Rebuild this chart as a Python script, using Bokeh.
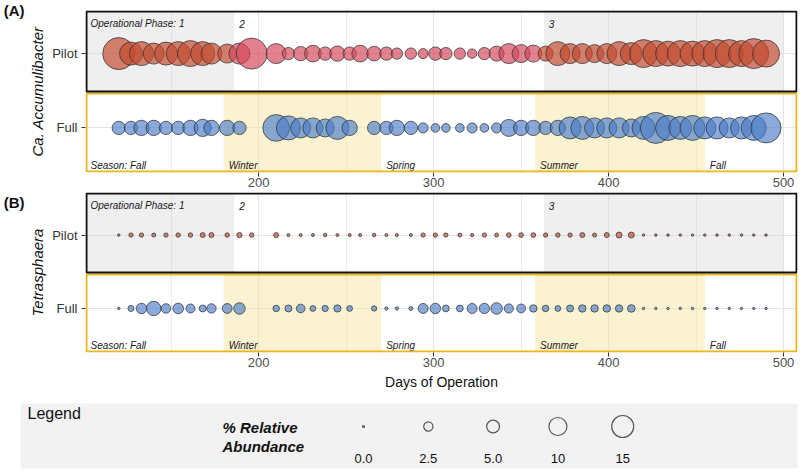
import math
from bokeh.plotting import figure
from bokeh.models import ColumnDataSource, Range1d, FixedTicker, LinearAxis
from bokeh.core.properties import value
from bokeh.embed import file_html
from bokeh.resources import INLINE

FONT = "Liberation Sans"

# ---------------- data ----------------
days_pilot = [120, 127, 133, 140, 147, 154, 161, 168, 173, 182, 189, 196,
              210, 217, 224, 231, 238, 245, 252, 258, 266, 273, 279, 287,
              294, 301, 307, 315, 322, 329, 336, 343, 350, 357, 364, 371,
              378, 385, 392, 399, 406, 413, 420, 427, 434, 441, 448, 455,
              462, 469, 476, 483, 490]
days_full = [120, 127, 133, 140, 147, 154, 161, 168, 173, 182, 189,
             210, 217, 224, 231, 238, 245, 252, 266, 273, 279, 287,
             294, 301, 307, 315, 322, 329, 336, 343, 350, 357, 364, 371,
             378, 385, 392, 399, 406, 413, 420, 427, 434, 441, 448, 455,
             462, 469, 476, 483, 490]

accum_pilot = [31.9, 16.4, 17.9, 13.7, 16.4, 17.9, 21.0, 17.9, 13.7, 11.2, 13.7, 29.9,
               12.4, 4.6, 6.3, 8.6, 5.4, 7.2, 5.4, 8.6, 6.6, 5.4, 3.9, 3.9,
               3.0, 5.4, 4.6, 3.9, 2.6, 4.6, 6.9, 12.4, 10.0, 8.9, 6.9, 17.9,
               12.4, 12.4, 10.0, 12.4, 17.9, 15.0, 24.4, 21.0, 19.4, 21.0, 19.4, 21.0,
               24.4, 24.4, 21.0, 28.0, 22.7]
accum_full = [5.4, 5.4, 7.2, 7.2, 5.4, 5.4, 7.2, 9.2, 7.2, 7.2, 5.4,
              22.2, 17.9, 12.4, 12.4, 10.0, 16.4, 7.2, 5.4, 5.4, 7.2, 5.4,
              3.0, 2.2, 2.2, 2.2, 3.0, 2.2, 3.0, 8.9, 7.2, 7.2, 5.4, 7.2,
              15.0, 16.4, 12.4, 12.4, 12.4, 10.0, 16.4, 29.9, 19.4, 16.4, 19.4, 15.0,
              15.0, 12.4, 15.0, 19.4, 28.0]

tetra_pilot = [0.07, 0.45, 0.45, 0.38, 0.45, 0.5, 0.5, 0.66, 0.66, 0.5, 0.75, 0.5,
               0.66, 0.16, 0.16, 0.16, 0.26, 0.16, 0.16, 0.16, 0.26, 0.16, 0.16, 0.16,
               0.45, 0.45, 0.45, 0.38, 0.2, 0.45, 0.38, 0.56, 0.56, 0.56, 0.45, 0.5,
               0.45, 0.66, 0.38, 0.66, 1.0, 1.0, 0.07, 0.07, 0.07, 0.07, 0.07, 0.07,
               0.07, 0.07, 0.07, 0.07, 0.07]
tetra_full = [0.07, 1.0, 3.3, 6.4, 2.7, 3.4, 2.4, 1.4, 2.6, 2.9, 4.0,
              1.2, 1.4, 2.2, 0.9, 1.1, 1.5, 0.9, 0.75, 0.2, 0.2, 0.38,
              3.0, 3.3, 1.3, 1.3, 3.0, 3.2, 4.0, 2.5, 2.3, 1.6, 1.2, 0.9,
              1.4, 1.6, 1.6, 1.6, 1.6, 1.7, 0.07, 0.07, 0.07, 0.07, 0.07, 0.07,
              0.07, 0.07, 0.07, 0.07, 0.07]

phase_names = ["Operational Phase: 1", "2", "3"]
phase_start = [0, 186, 363]
phase_end = [186, 363, 500]
phase_shaded = [True, False, True]

season_names = ["Season: Fall", "Winter", "Spring", "Summer", "Fall"]
season_start = [0, 180, 270, 358, 455]
season_end = [180, 270, 358, 455, 560]
season_shaded = [False, True, False, True, False]

x_ticks = [200, 300, 400, 500]
x_minor = [150, 250, 350, 450]
row_ticks = [0, 1]
row_labels = {0: "Full", 1: "Pilot"}

legend_values = [0.0, 2.5, 5.0, 10, 15]
legend_labels = ["0.0", "2.5", "5.0", "10", "15"]

# ---------------- styling / layout ----------------
W = 802
BL, BR = 85, 5                 # left / right borders (px)
FW = W - BL - BR               # frame width
X0, X1 = 101, 508
Y0, Y1, Y_SPLIT = -0.6, 1.58, 0.476

pilot_colors_A = ["#C24A2E", "#D4475A", "#C24A2E"]
pilot_colors_B = ["#C24A2E", "#C24A2E", "#C24A2E"]
full_color = "#4A7DC8"


def bubble_size(v):
    return math.sqrt(4 + 32 * v)


def phase_index(day):
    for i in range(len(phase_start)):
        if phase_start[i] <= day < phase_end[i]:
            return i
    return len(phase_start) - 1


def make_panel(tag, tag_y, ylabel, pilot_vals, full_vals, pilot_colors, height,
               border_top, border_bottom, xlabel):
    fh = height - border_top - border_bottom
    px = (X1 - X0) / FW          # data units per pixel (x)
    py = (Y1 - Y0) / fh          # data units per pixel (y)

    p = figure(width=W, height=height, x_range=Range1d(X0, X1), y_range=Range1d(Y0, Y1),
               output_backend="svg", toolbar_location=None,
               min_border_left=BL, min_border_right=BR,
               min_border_top=border_top, min_border_bottom=border_bottom)
    p.outline_line_color = None
    p.background_fill_color = "white"
    p.border_fill_color = "white"

    # x axis
    p.xaxis.ticker = FixedTicker(ticks=x_ticks, minor_ticks=x_minor)
    p.xaxis.minor_tick_line_color = None
    p.xaxis.axis_line_color = None
    p.xaxis.major_tick_line_color = "#333333"
    p.xaxis.major_tick_out = 4
    p.xaxis.major_tick_in = 0
    p.xaxis.major_label_standoff = 1
    p.xaxis.major_label_text_font = FONT
    p.xaxis.major_label_text_font_size = "13px"
    p.xaxis.major_label_text_color = "#4D4D4D"
    if xlabel:
        p.xaxis.axis_label = xlabel
        p.xaxis.axis_label_text_font = FONT
        p.xaxis.axis_label_text_font_size = "14px"
        p.xaxis.axis_label_text_font_style = "normal"
        p.xaxis.axis_label_text_color = "#111111"
        p.xaxis.axis_label_standoff = 4

    # y axis
    p.yaxis.ticker = FixedTicker(ticks=row_ticks)
    p.yaxis.major_label_overrides = row_labels
    p.yaxis.minor_tick_line_color = None
    p.yaxis.axis_line_color = None
    p.yaxis.major_tick_line_color = "#333333"
    p.yaxis.major_tick_out = 4
    p.yaxis.major_tick_in = 0
    p.yaxis.major_label_standoff = 4
    p.yaxis.major_label_text_font = FONT
    p.yaxis.major_label_text_font_size = "13px"
    p.yaxis.major_label_text_color = "#333333"
    p.yaxis.axis_label = ylabel
    p.yaxis.axis_label_text_font = FONT
    p.yaxis.axis_label_text_font_size = "15px"
    p.yaxis.axis_label_text_font_style = "italic"
    p.yaxis.axis_label_text_color = "#111111"
    p.yaxis.axis_label_standoff = 3

    # panel tag "(A)" / "(B)" as an outer left axis with a single labelled tick
    tag_axis = LinearAxis(ticker=FixedTicker(ticks=[tag_y]), major_label_overrides={tag_y: tag})
    tag_axis.axis_line_color = None
    tag_axis.major_tick_line_color = None
    tag_axis.minor_tick_line_color = None
    tag_axis.major_tick_out = 0
    tag_axis.major_tick_in = 0
    tag_axis.major_label_standoff = 2
    tag_axis.major_label_text_font = FONT
    tag_axis.major_label_text_font_size = "15px"
    tag_axis.major_label_text_font_style = "bold"
    tag_axis.major_label_text_color = "#111111"
    p.add_layout(tag_axis, "left")

    # grid
    p.xgrid.grid_line_color = "#E6E6E6"
    p.xgrid.grid_line_width = 1.2
    p.xgrid.minor_grid_line_color = "#ECECEC"
    p.xgrid.minor_grid_line_width = 1
    p.ygrid.grid_line_color = "#E6E6E6"
    p.ygrid.grid_line_width = 1.2

    # shading: operational phases (pilot row) and seasons (full row)
    gl = [phase_start[i] for i in range(len(phase_start)) if phase_shaded[i]]
    gr = [phase_end[i] for i in range(len(phase_start)) if phase_shaded[i]]
    p.quad(left=gl, right=gr, bottom=[Y_SPLIT] * len(gl), top=[Y1] * len(gl),
           fill_color="#D2D2D2", fill_alpha=0.35, line_color=None)
    yl = [season_start[i] for i in range(len(season_start)) if season_shaded[i]]
    yr = [season_end[i] for i in range(len(season_start)) if season_shaded[i]]
    p.quad(left=yl, right=yr, bottom=[Y0] * len(yl), top=[Y_SPLIT] * len(yl),
           fill_color="#F3E29A", fill_alpha=0.45, line_color=None)

    # bubbles
    src_p = ColumnDataSource(dict(
        x=days_pilot, y=[row_ticks[1]] * len(days_pilot),
        size=[bubble_size(v) for v in pilot_vals],
        color=[pilot_colors[phase_index(d)] for d in days_pilot]))
    p.scatter("x", "y", size="size", source=src_p, fill_color="color", fill_alpha=0.68,
              line_color="#333333", line_alpha=0.75, line_width=1)
    src_f = ColumnDataSource(dict(
        x=days_full, y=[row_ticks[0]] * len(days_full),
        size=[bubble_size(v) for v in full_vals]))
    p.scatter("x", "y", size="size", source=src_f, fill_color=full_color, fill_alpha=0.65,
              line_color="#333333", line_alpha=0.75, line_width=1)

    # phase / season labels
    p.text(x=[max(s, X0) for s in phase_start], y=[1.40] * len(phase_start), text=phase_names,
           x_offset=5, text_font=value(FONT), text_font_style="italic", text_font_size="10px",
           text_baseline="middle", text_align="left", text_color="#1A1A1A")
    p.text(x=[max(s, X0) for s in season_start], y=[-0.50] * len(season_start), text=season_names,
           x_offset=5, text_font=value(FONT), text_font_style="italic", text_font_size="10px",
           text_baseline="middle", text_align="left", text_color="#1A1A1A")

    # panel borders (inset by one pixel so the 2px lines stay inside the frame)
    p.quad(left=[X0 + px], right=[X1 - px], bottom=[Y0 + py], top=[Y_SPLIT - py],
           fill_color=None, line_color="#EBB71E", line_width=2)
    p.quad(left=[X0 + px], right=[X1 - px], bottom=[Y_SPLIT + py], top=[Y1 - py],
           fill_color=None, line_color="#111111", line_width=2)
    return p


pA = make_panel("(A)", 1.58, "Ca. Accumulibacter", accum_pilot, accum_full, pilot_colors_A,
                192, 10, 20, None)
pB = make_panel("(B)", 1.49, "Tetrasphaera", tetra_pilot, tetra_full, pilot_colors_B,
                201, 0, 41, "Days of Operation")

# ---------------- legend ----------------
LH = 80
lg = figure(width=W, height=LH, x_range=Range1d(0, W), y_range=Range1d(0, LH),
            output_backend="svg", toolbar_location=None,
            min_border_left=0, min_border_right=0, min_border_top=0, min_border_bottom=0)
lg.xaxis.visible = False
lg.yaxis.visible = False
lg.grid.visible = False
lg.outline_line_color = None
lg.background_fill_color = "white"
lg.border_fill_color = "white"

lg.quad(left=[20], right=[797], bottom=[5], top=[70], fill_color="#F2F2F2", line_color=None)
lg.text(x=[27], y=[60], text=["Legend"], text_font=value(FONT), text_font_size="16px",
        text_baseline="middle", text_align="left", text_color="#111111")
lg.text(x=[222, 222], y=[46, 27], text=["% Relative", "Abundance"], text_font=value(FONT),
        text_font_size="15px", text_font_style="bold italic", text_baseline="middle",
        text_align="left", text_color="#111111")
key_x = [363 + 64.8 * i for i in range(len(legend_values))]
lg.scatter(x=key_x, y=[47] * len(key_x), size=[bubble_size(v) for v in legend_values],
           fill_color=None, line_color="#555555", line_width=1.2)
lg.text(x=key_x, y=[15] * len(key_x), text=legend_labels, text_font=value(FONT),
        text_font_size="13px", text_baseline="middle", text_align="center", text_color="#111111")

open("out.html", "w").write(file_html([pA, pB, lg], INLINE))
